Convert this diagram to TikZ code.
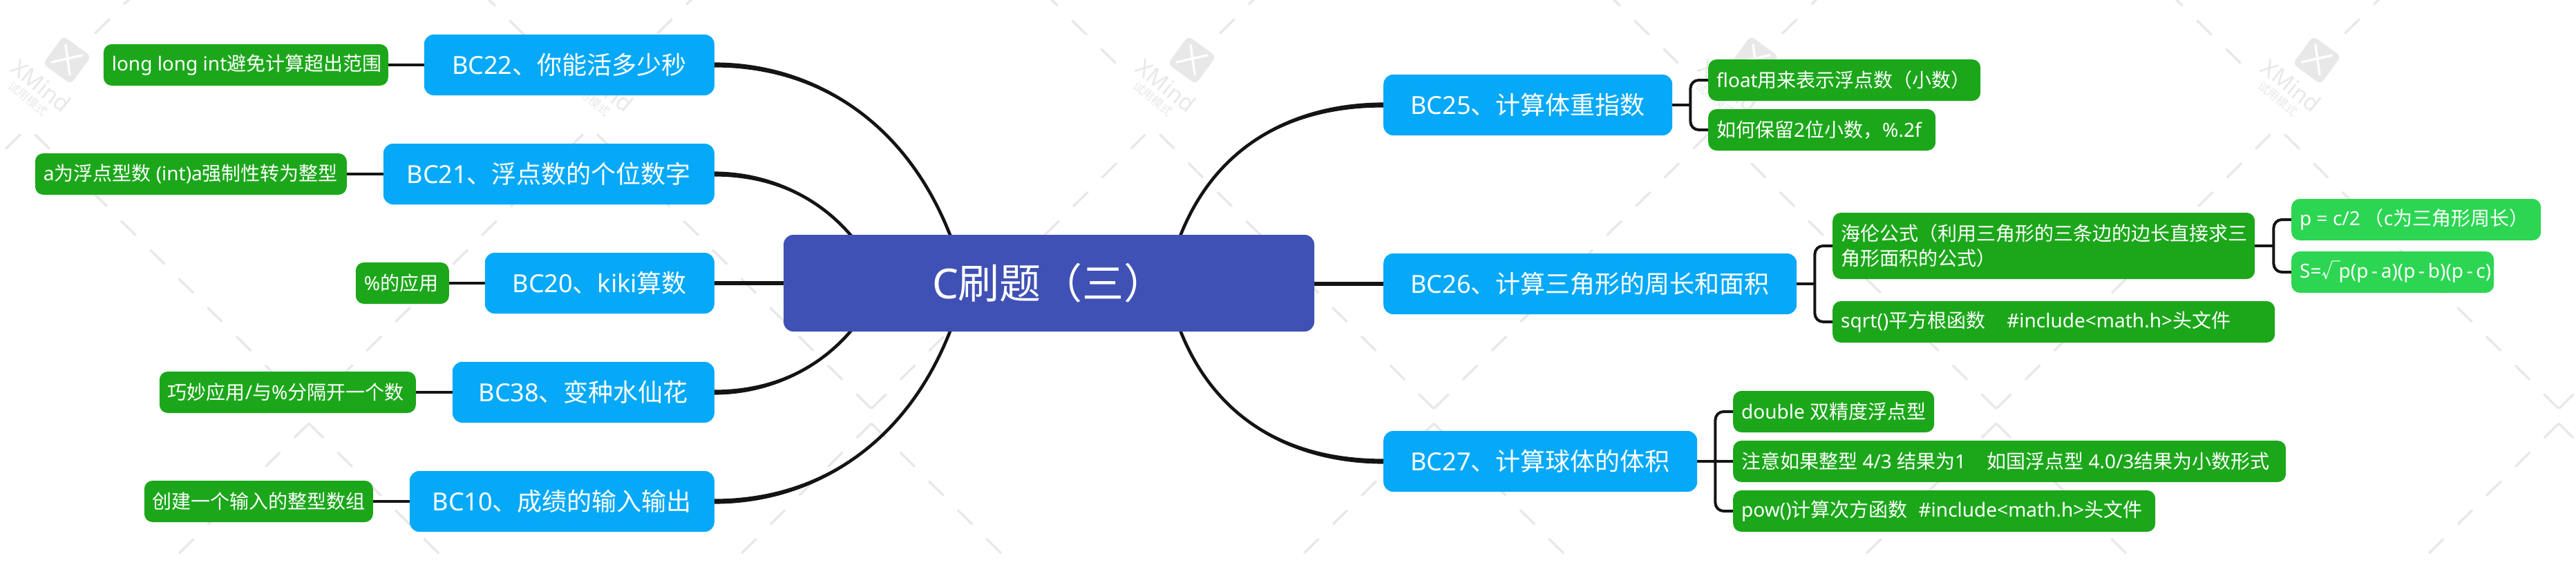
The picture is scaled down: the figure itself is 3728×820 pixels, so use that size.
\documentclass[tikz,border=0pt]{standalone}
\usepackage{fontspec}
\setmainfont{Noto Sans}
\newfontfamily\cjkf{Noto Sans CJK SC}
\newcommand\cj[1]{{\cjkf #1}}
\newcommand\st[2]{\makebox[#1pt][l]{\hspace{12pt}#2}}
\usetikzlibrary{backgrounds,calc}
\definecolor{rootc}{HTML}{4051B5}
\definecolor{mainc}{HTML}{06A9F8}
\definecolor{subc}{HTML}{1CA71B}
\definecolor{leafc}{HTML}{2CD652}
\definecolor{linec}{HTML}{141414}
\definecolor{wmc}{HTML}{E8E8E8}
\tikzset{
  x=1pt,y=-1pt,
  rootbox/.style={fill=rootc,text=white,rounded corners=14pt,minimum width=768pt,minimum height=140pt,inner sep=0pt,font=\fontsize{60}{72}\selectfont},
  mainbox/.style={fill=mainc,text=white,rounded corners=14pt,minimum height=88pt,inner sep=0pt,font=\fontsize{36}{44}\selectfont},
  subbox/.style={fill=subc,text=white,rounded corners=12pt,minimum height=60pt,inner sep=0pt,font=\fontsize{28}{36.7}\selectfont},
  leafbox/.style={subbox,fill=leafc},
  trunk/.style={draw=linec,line width=6pt},
  curveline/.style={draw=linec,line width=4.6pt},
  branch/.style={draw=linec,line width=4pt,rounded corners=12pt},
  wmdash/.style={draw=wmc,line width=3.4pt},
}
\newcommand\wmA[2]{\draw[wmdash] ({#1-10.7},{#2-10.5}) -- ({#1+10.7},{#2+10.5});}
\newcommand\wmB[2]{\draw[wmdash] ({#1-10.7},{#2+10.5}) -- ({#1+10.7},{#2-10.5});}
% tapered connector: #1 start anchor, #2 and #3 controls, #4 end coordinate
\newcommand\curveconn[4]{%
  \draw[curveline] (#1) .. controls (#2) and (#3) .. (#4);
  \fill[linec] ($(#1)+(0,-3.6)$) .. controls ($(#2)+(0,-3.2)$) and ($(#3)+(0,-1)$) .. (#4)
     .. controls ($(#3)+(0,1)$) and ($(#2)+(0,3.2)$) .. ($(#1)+(0,3.6)$) -- cycle;
}
\begin{document}
\begin{tikzpicture}
\useasboundingbox (0,0) rectangle (3728,820);
% root and main topics
\node[rootbox] (root) at (1518,410) {C\cj{刷题（三）}};
\node[mainbox,anchor=east,minimum width=420pt] (bc22) at (1034,94) {BC22\cj{、你能活多少秒}};
\node[mainbox,anchor=east,minimum width=479pt] (bc21) at (1034,252) {BC21\cj{、浮点数的个位数字}};
\node[mainbox,anchor=east,minimum width=332pt] (bc20) at (1034,410) {BC20\cj{、}kiki\cj{算数}};
\node[mainbox,anchor=east,minimum width=379pt] (bc38) at (1034,568) {BC38\cj{、变种水仙花}};
\node[mainbox,anchor=east,minimum width=441pt] (bc10) at (1034,726) {BC10\cj{、成绩的输入输出}};
\node[mainbox,anchor=west,minimum width=418pt] (bc25) at (2002,152) {BC25\cj{、计算体重指数}};
\node[mainbox,anchor=west,minimum width=598pt] (bc26) at (2002,411) {BC26\cj{、计算三角形的周长和面积}};
\node[mainbox,anchor=west,minimum width=454pt] (bc27) at (2002,668) {BC27\cj{、计算球体的体积}};
% left subtopics
\node[subbox,anchor=east] (s22) at (562,94) {\st{412}{long long int\cj{避免计算超出范围}}};
\node[subbox,anchor=east] (s21) at (502,252) {\st{451}{a\cj{为浮点型数} (int)a\cj{强制性转为整型}}};
\node[subbox,anchor=east] (s20) at (650,410) {\st{135}{\%\cj{的应用}}};
\node[subbox,anchor=east] (s38) at (602,568) {\st{371}{\cj{巧妙应用}/\cj{与}\%\cj{分隔开一个数}}};
\node[subbox,anchor=east] (s10) at (540,726) {\st{331}{\cj{创建一个输入的整型数组}}};
% right subtopics
\node[subbox,anchor=west] (sfloat) at (2472,116) {\st{394}{float\cj{用来表示浮点数（小数）}}};
\node[subbox,anchor=west] (skeep) at (2472,188) {\st{329}{\cj{如何保留}2\cj{位小数，}\%.2f}};
\node[subbox,anchor=west,minimum height=96pt,align=left,text width=587pt,inner xsep=12pt] (shelen) at (2652,356) {\cj{海伦公式（利用三角形的三条边的边长直接求三}\\\cj{角形面积的公式）}};
\node[subbox,anchor=west] (ssqrt) at (2652,466) {\st{640}{sqrt()\cj{平方根函数}\hspace{31pt}\#include<math.h>\cj{头文件}}};
\node[leafbox,anchor=west] (lp) at (3316,318) {\st{361}{p = c/2\hspace{6pt}\cj{（}c\cj{为三角形周长）}}};
\node[leafbox,anchor=west] (ls) at (3316,394) {\st{293}{S=\cj{√}\hspace{-3pt}p(p\,-\,a)(p\,-\,b)(p\,-\,c)}};
\node[subbox,anchor=west] (sdouble) at (2508,596) {\st{291}{double \cj{双精度浮点型}}};
\node[subbox,anchor=west] (snote) at (2508,668) {\st{800}{\cj{注意如果整型} 4/3 \cj{结果为}1\hspace{30pt}\cj{如国浮点型} 4.0/3\cj{结果为小数形式}}};
\node[subbox,anchor=west] (spow) at (2508,740) {\st{611}{pow()\cj{计算次方函数}\hspace{16pt}\#include<math.h>\cj{头文件}}};
% curve ends hidden behind the root
\coordinate (rA) at (1397,410);
\coordinate (rB) at (1275,410);
\coordinate (rC) at (1688,410);
\begin{pgfonlayer}{background}
\begin{scope}
\clip (0,0) rectangle (3728,820);
\foreach \m in {-1,...,4}{
  \pgfmathsetmacro\ox{814*\m}
  \foreach \k in {0,...,9}{
    \wmA{\ox+61+41.67*\k}{205+41.78*\k}
    \wmB{\ox+833-41.67*\k}{205+41.78*\k}
  }
  \foreach \k in {0,...,4}{
    \wmA{\ox+457.5+41.67*\k}{623.5+41.78*\k}
    \wmB{\ox+436.5-41.67*\k}{623.5+41.78*\k}
  }
  \wmB{\ox+148}{38}
  \wmB{\ox+190}{-4}
  \wmA{\ox+748}{40}
  \wmA{\ox+706}{-2}
  \wmA{\ox+790}{81}
  % logo
  \node[fill=wmc,rounded corners=7pt,minimum size=50pt,inner sep=0pt,rotate=-36] at (\ox+97,87) {};
  \draw[white,line width=3.4pt,line cap=round] (\ox+95,65) -- (\ox+101,108);
  \draw[white,line width=3.4pt,line cap=round] (\ox+75,90) -- (\ox+119,80);
  \node[text=wmc,rotate=-39,font=\fontsize{33}{33}\selectfont\bfseries,inner sep=0pt] at (\ox+60,124) {XMind};
  \node[text=wmc,rotate=-40,font=\fontsize{17}{17}\selectfont,inner sep=0pt] at (\ox+41,143) {\cj{试用模式}};
}
\end{scope}
% connectors root to main topics
\draw[trunk] (bc20.east) -- (root.west);
\draw[trunk] (root.east |- bc26.west) -- (bc26.west);
\curveconn{bc22.east}{1200,94}{1345,200}{rA}
\curveconn{bc21.east}{1130,252}{1225,300}{rB}
\curveconn{bc38.east}{1130,568}{1225,520}{rB}
\curveconn{bc10.east}{1200,726}{1345,620}{rA}
\curveconn{bc25.west}{1850,152}{1725,230}{rC}
\curveconn{bc27.west}{1850,668}{1725,590}{rC}
% left branches
\draw[branch] (bc22.west) -- (s22.east);
\draw[branch] (bc21.west) -- (s21.east);
\draw[branch] (bc20.west) -- (s20.east);
\draw[branch] (bc38.west) -- (s38.east);
\draw[branch] (bc10.west) -- (s10.east);
% right branches
\draw[branch] (bc25.east) -- ++(26,0) coordinate (j25);
\draw[branch] (sfloat.west) -| (j25);
\draw[branch] (skeep.west) -| (j25);
\draw[branch] (bc26.east) -- ++(26,0) coordinate (j26);
\draw[branch] (shelen.west) -| (j26);
\draw[branch] (ssqrt.west) -| (j26);
\draw[branch] (shelen.east) -- ++(27,0) coordinate (jh);
\draw[branch] (lp.west) -| (jh);
\draw[branch] (ls.west) -| (jh);
\draw[branch] (bc27.east) -- ++(26,0) coordinate (j27);
\draw[branch] (sdouble.west) -| (j27);
\draw[branch] (snote.west) -- (j27);
\draw[branch] (spow.west) -| (j27);
\end{pgfonlayer}
\end{tikzpicture}
\end{document}
